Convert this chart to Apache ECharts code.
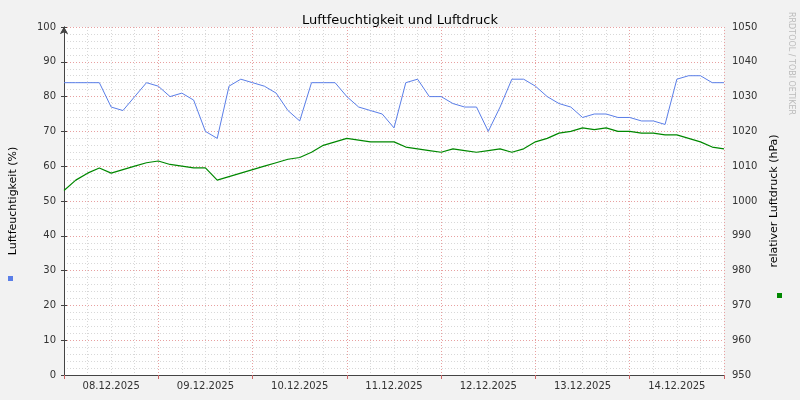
<!DOCTYPE html>
<html><head><meta charset="utf-8">
<script src="https://cdn.jsdelivr.net/npm/echarts@6/dist/echarts.min.js"></script>
<style>html,body{margin:0;padding:0;background:#f2f2f2}#c{width:800px;height:400px}</style>
</head><body><div id="c"></div>
<script>
// Daten: alle 3 Stunden ab 08.12.2025 00:00
var days = ['08.12.2025','09.12.2025','10.12.2025','11.12.2025','12.12.2025','13.12.2025','14.12.2025'];
var feuchte = [84,84,84,84,77,76,80,84, 83,80,81,79,70,68,83,85, 84,83,81,76,73,84,84,84,
	80,77,76,75,71,84,85,80, 80,78,77,77,70,77,85,85, 83,80,78,77,74,75,75,74,
	74,73,73,72,85,86,86,84,84];
var druck = [1003,1006,1008,1009.5,1008,1009,1010,1011, 1011.5,1010.5,1010,1009.5,1009.5,1006,1007,1008,
	1009,1010,1011,1012,1012.5,1014,1016,1017, 1018,1017.5,1017,1017,1017,1015.5,1015,1014.5,
	1014,1015,1014.5,1014,1014.5,1015,1014,1015, 1017,1018,1019.5,1020,1021,1020.5,1021,1020,
	1020,1019.5,1019.5,1019,1019,1018,1017,1015.5, 1015];

function pts(arr){ var r=[]; arr.forEach(function(v,i){ r.push([i*3,v]); }); return r; }

var chart = echarts.init(document.getElementById('c'));
var lbl = {fontFamily:'DejaVu Sans',fontSize:10,color:'#333'};
chart.setOption({
	backgroundColor:'#f2f2f2',
	animation:false,
	title:{text:'Luftfeuchtigkeit und Luftdruck',left:'center',top:9,
		textStyle:{fontFamily:'DejaVu Sans',fontSize:13,fontWeight:'normal',color:'#000'}},
	grid:{left:61,right:76,top:27,bottom:25,show:true,backgroundColor:'#fff',borderWidth:0},
	xAxis:[{
		type:'value',min:0,max:168,interval:24,
		axisLine:{lineStyle:{color:'#444'}},
		axisTick:{show:true,length:4,lineStyle:{color:'#c66'}},
		axisLabel:{show:false},
		splitLine:{lineStyle:{color:'#e8a0a0',type:[1,2]}},
		minorTick:{show:false,splitNumber:4},
		minorSplitLine:{show:true,lineStyle:{color:'#d8d8d8',type:[1,2]}}
	},{
		type:'value',min:0,max:168,interval:12,position:'bottom',
		axisLine:{show:false},axisTick:{show:false},splitLine:{show:false},
		axisLabel:Object.assign({margin:6,formatter:function(v){ return v%24===12 ? days[(v-12)/24] : ''; }},lbl)
	}],
	yAxis:[{
		type:'value',min:0,max:100,interval:10,name:'Luftfeuchtigkeit (%)',
		nameLocation:'middle',nameGap:45,nameRotate:90,
		nameTextStyle:{fontFamily:'DejaVu Sans',fontSize:11,color:'#000'},
		axisLine:{show:true,symbol:['none','arrow'],symbolSize:[6,7],lineStyle:{color:'#444'}},
		axisTick:{show:true,length:3,lineStyle:{color:'#444'}},
		axisLabel:lbl,
		splitLine:{lineStyle:{color:'#e8a0a0',type:[1,2]}},
		minorTick:{show:false,splitNumber:5},
		minorSplitLine:{show:true,lineStyle:{color:'#d8d8d8',type:[1,2]}}
	},{
		type:'value',min:950,max:1050,interval:10,name:'relativer Luftdruck (hPa)',
		nameLocation:'middle',nameGap:43,nameRotate:90,
		nameTextStyle:{fontFamily:'DejaVu Sans',fontSize:11,color:'#000'},
		axisLine:{show:true,symbol:['none','arrow'],symbolSize:[6,7],lineStyle:{color:'#444'}},
		axisTick:{show:true,length:3,lineStyle:{color:'#444'}},
		axisLabel:Object.assign({formatter:function(v){ return String(v); }},lbl),
		splitLine:{show:false}
	}],
	series:[{
		name:'Luftfeuchtigkeit',type:'line',xAxisIndex:0,yAxisIndex:0,
		showSymbol:false,data:pts(feuchte),lineStyle:{color:'#5a7ee8',width:1}
	},{
		name:'Luftdruck',type:'line',xAxisIndex:0,yAxisIndex:1,
		showSymbol:false,data:pts(druck),lineStyle:{color:'#008800',width:1.2}
	}],
	graphic:[
		{type:'rect',shape:{x:8,y:276,width:5,height:5},style:{fill:'#5a7ee8'}},
		{type:'rect',shape:{x:777,y:293,width:5,height:5},style:{fill:'#008800'}},
		{type:'text',x:795,y:12,rotation:-Math.PI/2,
			style:{text:'RRDTOOL / TOBI OETIKER',font:'8px DejaVu Sans',fill:'#bbb'}}
	]
});
</script></body></html>
